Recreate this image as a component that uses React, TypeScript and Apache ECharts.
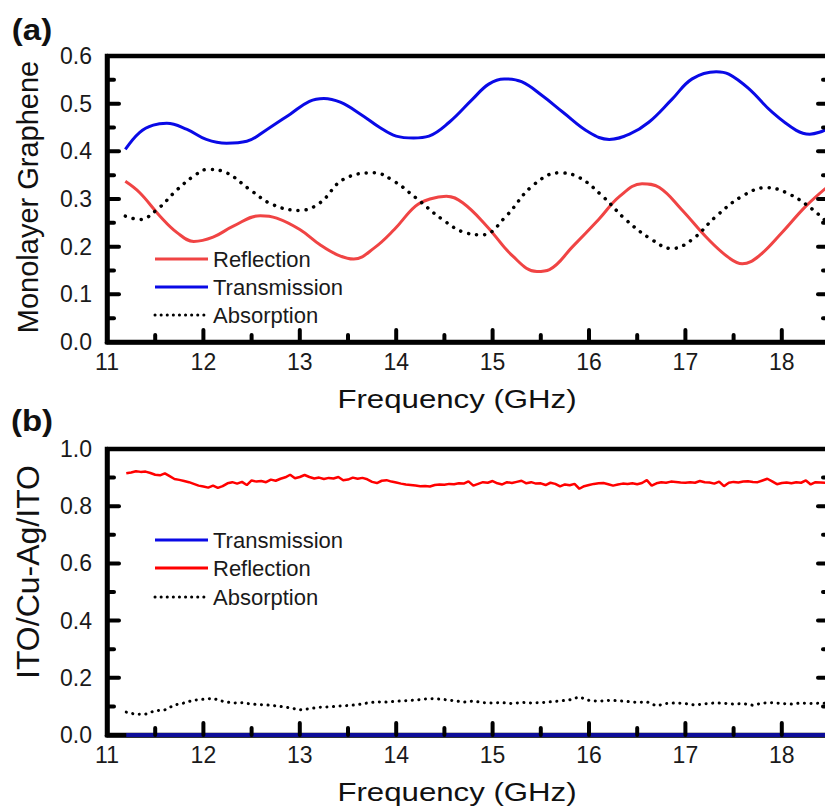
import React, { useEffect, useRef } from "react";
import * as echarts from "echarts";

// ---------- Panel (a): Monolayer Graphene ----------
const A_TRANSMISSION: [number, number][] = [
  [11.19, 0.404], [11.34, 0.44], [11.48, 0.455], [11.62, 0.459], [11.83, 0.446],
  [12.03, 0.425], [12.24, 0.417], [12.45, 0.421], [12.66, 0.446], [12.9, 0.478],
  [13.1, 0.505], [13.25, 0.511], [13.42, 0.503], [13.63, 0.478], [13.83, 0.45],
  [14.0, 0.432], [14.18, 0.428], [14.34, 0.432], [14.55, 0.461], [14.79, 0.509],
  [14.96, 0.541], [15.12, 0.552], [15.3, 0.546], [15.52, 0.516], [15.73, 0.482],
  [16.0, 0.44], [16.21, 0.425], [16.42, 0.436], [16.62, 0.461], [16.86, 0.509],
  [17.07, 0.552], [17.32, 0.567], [17.45, 0.562], [17.66, 0.531], [17.9, 0.482],
  [18.15, 0.444], [18.29, 0.436], [18.39, 0.44], [18.5, 0.45],
];
const A_REFLECTION: [number, number][] = [
  [11.19, 0.337], [11.34, 0.313], [11.55, 0.264], [11.73, 0.229], [11.9, 0.211],
  [12.1, 0.22], [12.31, 0.243], [12.59, 0.265], [12.76, 0.26], [13.0, 0.236],
  [13.21, 0.204], [13.39, 0.183], [13.56, 0.174], [13.77, 0.197], [13.98, 0.236],
  [14.2, 0.285], [14.35, 0.3], [14.52, 0.306], [14.69, 0.292], [14.94, 0.243],
  [15.21, 0.18], [15.46, 0.148], [15.59, 0.152], [15.83, 0.2], [16.1, 0.257],
  [16.32, 0.306], [16.55, 0.332], [16.73, 0.324], [16.96, 0.278], [17.24, 0.215],
  [17.45, 0.177], [17.59, 0.164], [17.76, 0.18], [18.0, 0.229], [18.25, 0.285],
  [18.5, 0.33],
];
const A_ABSORPTION: [number, number][] = [
  [11.19, 0.264], [11.34, 0.257], [11.52, 0.278], [11.73, 0.32], [11.9, 0.348],
  [12.04, 0.362], [12.24, 0.355], [12.48, 0.32], [12.72, 0.288], [13.0, 0.276],
  [13.21, 0.292], [13.45, 0.341], [13.77, 0.355], [13.98, 0.337], [14.2, 0.303],
  [14.48, 0.257], [14.72, 0.229], [14.9, 0.225], [15.14, 0.264], [15.41, 0.327],
  [15.69, 0.355], [15.9, 0.345], [16.14, 0.306], [16.38, 0.257], [16.65, 0.215],
  [16.86, 0.196], [17.07, 0.215], [17.32, 0.264], [17.59, 0.306], [17.84, 0.324],
  [18.08, 0.31], [18.32, 0.278], [18.5, 0.245],
];

// ---------- Panel (b): ITO/Cu-Ag/ITO ----------
const B_FREQ_START = 11.2;
const B_FREQ_STEP = 0.05;
const B_REFLECTION: number[] = [
  0.915, 0.918, 0.922, 0.92, 0.921, 0.916, 0.91, 0.908, 0.915, 0.905,
  0.895, 0.892, 0.888, 0.884, 0.878, 0.872, 0.869, 0.865, 0.872, 0.864,
  0.87, 0.88, 0.884, 0.879, 0.885, 0.874, 0.89, 0.886, 0.888, 0.884,
  0.893, 0.889, 0.896, 0.901, 0.91, 0.898, 0.902, 0.909, 0.902, 0.897,
  0.9, 0.895, 0.899, 0.897, 0.902, 0.891, 0.893, 0.9, 0.896, 0.899,
  0.894, 0.885, 0.881, 0.889, 0.891, 0.886, 0.883, 0.879, 0.876, 0.874,
  0.872, 0.87, 0.871, 0.869, 0.874, 0.876, 0.875, 0.878, 0.877, 0.88,
  0.879, 0.887, 0.872, 0.878, 0.884, 0.882, 0.888, 0.88, 0.876, 0.884,
  0.881, 0.885, 0.889, 0.88, 0.884, 0.879, 0.88, 0.874, 0.882, 0.878,
  0.869, 0.876, 0.873, 0.878, 0.861, 0.87, 0.874, 0.878, 0.88, 0.881,
  0.877, 0.872, 0.876, 0.879, 0.878, 0.88, 0.877, 0.881, 0.891, 0.872,
  0.88, 0.884, 0.882, 0.886, 0.885, 0.883, 0.882, 0.884, 0.882, 0.888,
  0.884, 0.883, 0.879, 0.886, 0.87, 0.882, 0.885, 0.883, 0.886, 0.887,
  0.885, 0.884, 0.89, 0.896, 0.887, 0.877, 0.881, 0.883, 0.88, 0.884,
  0.882, 0.89, 0.876, 0.884, 0.883, 0.882,
];
const B_ABSORPTION: [number, number][] = [
  [11.2, 0.08], [11.3, 0.072], [11.4, 0.073], [11.5, 0.085], [11.6, 0.088],
  [11.7, 0.105], [11.8, 0.112], [11.9, 0.122], [12.0, 0.125], [12.1, 0.128],
  [12.2, 0.118], [12.3, 0.112], [12.4, 0.113], [12.5, 0.108], [12.6, 0.106],
  [12.7, 0.104], [12.8, 0.1], [12.9, 0.095], [13.0, 0.088], [13.1, 0.092],
  [13.2, 0.097], [13.3, 0.098], [13.4, 0.101], [13.5, 0.103], [13.6, 0.106],
  [13.7, 0.112], [13.8, 0.116], [13.9, 0.115], [14.0, 0.118], [14.1, 0.12],
  [14.2, 0.122], [14.3, 0.126], [14.4, 0.127], [14.5, 0.124], [14.6, 0.12],
  [14.7, 0.115], [14.8, 0.119], [14.9, 0.113], [15.0, 0.112], [15.1, 0.113],
  [15.2, 0.11], [15.3, 0.114], [15.4, 0.112], [15.5, 0.113], [15.6, 0.116],
  [15.7, 0.119], [15.8, 0.123], [15.9, 0.133], [16.0, 0.121], [16.1, 0.118],
  [16.2, 0.121], [16.3, 0.12], [16.4, 0.117], [16.5, 0.114], [16.6, 0.116],
  [16.7, 0.102], [16.8, 0.11], [16.9, 0.112], [17.0, 0.11], [17.1, 0.105],
  [17.2, 0.109], [17.3, 0.112], [17.4, 0.111], [17.5, 0.108], [17.6, 0.11],
  [17.7, 0.104], [17.8, 0.112], [17.9, 0.113], [18.0, 0.11], [18.1, 0.108],
  [18.2, 0.112], [18.3, 0.11], [18.4, 0.111], [18.5, 0.112],
];
const B_TRANSMISSION: [number, number][] = [
  [11.2, 0.0], [12.0, 0.0], [13.0, 0.0], [14.0, 0.0], [15.0, 0.0],
  [16.0, 0.0], [17.0, 0.0], [18.0, 0.0], [18.5, 0.0],
];

// ---------- Axes and tick positions ----------
const X_MIN = 11;
const X_MAX = 18.5;
const X_INTERVAL = 1;
const X_MAJOR_TICKS = [12, 13, 14, 15, 16, 17, 18];
const X_MINOR_TICKS = [11.5, 12.5, 13.5, 14.5, 15.5, 16.5, 17.5];
const YA_MAX = 0.6;
const YA_INTERVAL = 0.1;
const YA_MAJOR_TICKS = [0.1, 0.2, 0.3, 0.4, 0.5];
const YA_MINOR_TICKS = [0.05, 0.15, 0.25, 0.35, 0.45, 0.55];
const YB_MAX = 1.0;
const YB_INTERVAL = 0.2;
const YB_MAJOR_TICKS = [0.2, 0.4, 0.6, 0.8];
const YB_MINOR_TICKS = [0.1, 0.3, 0.5, 0.7, 0.9];

const FONT = "'Liberation Sans', Arial, Helvetica, sans-serif";

export default function App() {
  const ref = useRef<HTMLDivElement>(null);

  useEffect(() => {
    if (!ref.current) return;
    const chart = echarts.init(ref.current, undefined, { renderer: "svg" });

    const gridBox = {
      show: true, borderColor: "#000", borderWidth: 4.5, backgroundColor: "transparent",
      containLabel: false,
    };
    const gridA = { left: 107, top: 56, width: 723, height: 286, ...gridBox };
    const gridB = { left: 107, top: 449, width: 723, height: 286, ...gridBox };

    const labelStyle = () => ({ color: "#1a1a1a", fontSize: 23, fontFamily: FONT });

    const makeX = (gridIndex: number) => ({
      type: "value", gridIndex, min: X_MIN, max: X_MAX, interval: X_INTERVAL,
      axisLine: { show: true, lineStyle: { color: "#000", width: 4.5 } },
      axisTick: { show: false },
      minorTick: { show: false },
      axisLabel: {
        show: true, margin: 8, ...labelStyle(),
        formatter: (v: number) => (Math.abs(v - Math.round(v)) < 1e-6 ? String(Math.round(v)) : ""),
      },
      splitLine: { show: false },
    });

    const makeY = (gridIndex: number, max: number, interval: number) => ({
      type: "value", gridIndex, min: 0, max, interval,
      axisLine: { show: true, lineStyle: { color: "#000", width: 4.5 } },
      axisTick: { show: false },
      minorTick: { show: false },
      axisLabel: { show: true, margin: 15, ...labelStyle(), formatter: (v: number) => v.toFixed(1) },
      splitLine: { show: false },
    });

    const dotted = (w: number, gap: number) => ({ color: "#000", width: w, type: [0.1, gap], cap: "round" });

    const bReflection = B_REFLECTION.map((v, i) => [
      +(B_FREQ_START + i * B_FREQ_STEP).toFixed(2), v,
    ]);

    const legendItem = (x: number, y: number, label: string, style: any) => [
      { type: "line", shape: { x1: x, y1: y, x2: x + 53, y2: y }, style, silent: true },
      {
        type: "text", x: x + 58, y,
        style: { text: label, font: `22px ${FONT}`, fill: "#1a1a1a", textAlign: "left", textVerticalAlign: "middle" },
        silent: true,
      },
    ];

    const titleText = (text: string, x: number, y: number, size: number, rotation = 0, scaleX = 1, bold = false) => ({
      type: "text", x, y, rotation, scaleX,
      style: {
        text, font: `${bold ? "bold " : ""}${size}px ${FONT}`, fill: "#111",
        textAlign: "center", textVerticalAlign: "middle",
      },
      silent: true,
    });

    const baseGraphic: any[] = [
      titleText("(a)", 32, 30, 30, 0, 1.1, true),
      titleText("(b)", 32, 421, 30, 0, 1.1, true),
      titleText("Monolayer Graphene", 28, 197, 29, Math.PI / 2),
      titleText("ITO/Cu-Ag/ITO", 28, 572, 32, Math.PI / 2),
      titleText("Frequency (GHz)", 457, 399, 26, 0, 1.2),
      titleText("Frequency (GHz)", 457, 792, 26, 0, 1.2),
      ...legendItem(155, 259, "Reflection", { stroke: "#f04444", lineWidth: 3 }),
      ...legendItem(155, 287, "Transmission", { stroke: "#0a0ae6", lineWidth: 3 }),
      ...legendItem(155, 315, "Absorption", { stroke: "#000", lineWidth: 3, lineDash: [0.1, 6], lineCap: "round" }),
      ...legendItem(155, 540, "Transmission", { stroke: "#0a0ae6", lineWidth: 3 }),
      ...legendItem(155, 568, "Reflection", { stroke: "#ff0000", lineWidth: 3 }),
      ...legendItem(155, 597, "Absorption", { stroke: "#000", lineWidth: 3, lineDash: [0.1, 6], lineCap: "round" }),
    ];

    chart.setOption({
      animation: false,
      backgroundColor: "#fff",
      grid: [gridA, gridB],
      xAxis: [makeX(0), makeX(1)],
      yAxis: [makeY(0, YA_MAX, YA_INTERVAL), makeY(1, YB_MAX, YB_INTERVAL)],
      series: [
        {
          name: "Reflection", type: "line", xAxisIndex: 0, yAxisIndex: 0, data: A_REFLECTION,
          smooth: 0.4, showSymbol: false, symbol: "none",
          lineStyle: { color: "#f04444", width: 3 },
        },
        {
          name: "Transmission", type: "line", xAxisIndex: 0, yAxisIndex: 0, data: A_TRANSMISSION,
          smooth: 0.4, showSymbol: false, symbol: "none",
          lineStyle: { color: "#0a0ae6", width: 3 },
        },
        {
          name: "Absorption", type: "line", xAxisIndex: 0, yAxisIndex: 0, data: A_ABSORPTION,
          smooth: 0.4, showSymbol: false, symbol: "none",
          lineStyle: dotted(3.5, 8),
        },
        {
          name: "Transmission", type: "line", xAxisIndex: 1, yAxisIndex: 1, data: B_TRANSMISSION,
          showSymbol: false, symbol: "none", clip: false, z: 5,
          lineStyle: { color: "#0d0d99", width: 4 },
        },
        {
          name: "Reflection", type: "line", xAxisIndex: 1, yAxisIndex: 1, data: bReflection,
          showSymbol: false, symbol: "none",
          lineStyle: { color: "#ff0000", width: 2.5 },
        },
        {
          name: "Absorption", type: "line", xAxisIndex: 1, yAxisIndex: 1, data: B_ABSORPTION,
          showSymbol: false, symbol: "none",
          lineStyle: dotted(3, 6.5),
        },
      ],
      graphic: baseGraphic,
    });

    // Tick marks placed through the axes' own scales (convertToPixel).
    let tickGraphic: any[] = [];
    try {
      const tickLine = (x1: number, y1: number, x2: number, y2: number) => ({
        type: "line", shape: { x1, y1, x2, y2 }, silent: true, z: 100,
        style: { stroke: "#000", lineWidth: 4, lineCap: "round" },
      });
      const ticksFor = (g: number, yMajor: number[], yMinor: number[]) => {
        const out: any[] = [];
        const px = (x: number, y: number) =>
          chart.convertToPixel({ xAxisIndex: g, yAxisIndex: g } as any, [x, y]) as number[];
        const xTick = (v: number, len: number) => {
          const p = px(v, 0);
          if (p && isFinite(p[0]) && isFinite(p[1])) out.push(tickLine(p[0], p[1], p[0], p[1] - len));
        };
        const yTick = (xv: number, v: number, len: number, dir: number) => {
          const p = px(xv, v);
          if (p && isFinite(p[0]) && isFinite(p[1])) out.push(tickLine(p[0], p[1], p[0] + dir * len, p[1]));
        };
        X_MAJOR_TICKS.forEach((v) => xTick(v, 12));
        X_MINOR_TICKS.forEach((v) => xTick(v, 7));
        yMajor.forEach((v) => { yTick(X_MIN, v, 12, 1); yTick(X_MAX, v, 12, -1); });
        yMinor.forEach((v) => { yTick(X_MIN, v, 7, 1); yTick(X_MAX, v, 7, -1); });
        return out;
      };
      tickGraphic = [
        ...ticksFor(0, YA_MAJOR_TICKS, YA_MINOR_TICKS),
        ...ticksFor(1, YB_MAJOR_TICKS, YB_MINOR_TICKS),
      ];
    } catch (e) {
      tickGraphic = [];
    }
    if (tickGraphic.length) {
      chart.setOption({ graphic: [...baseGraphic, ...tickGraphic] });
    }

    return () => chart.dispose();
  }, []);

  return (
    <div style={{ position: "fixed", left: 0, top: 0, width: 825, height: 807, overflow: "hidden", background: "#fff" }}>
      <div ref={ref} style={{ width: 920, height: 807 }} />
    </div>
  );
}
